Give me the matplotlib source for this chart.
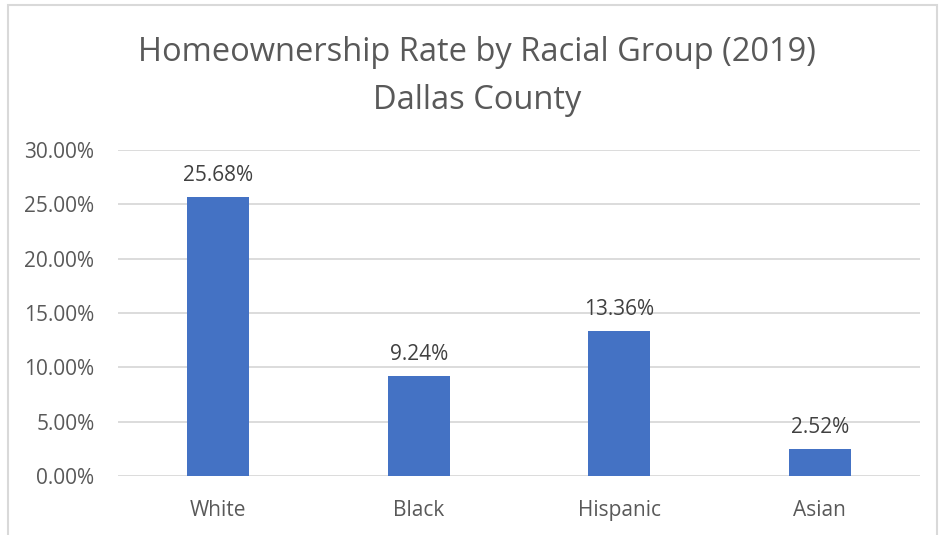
import matplotlib.pyplot as plt
from matplotlib.patches import Rectangle
from matplotlib.ticker import PercentFormatter

groups = ["White", "Black", "Hispanic", "Asian"]
rates = [25.68, 9.24, 13.36, 2.52]
y_ticks = [0, 5, 10, 15, 20, 25, 30]

plt.rcParams['font.family'] = ['Open Sans', 'DejaVu Sans']

fig = plt.figure(figsize=(9.39, 5.35), dpi=100)
ax = fig.add_axes([0.1257, 0.1103, 0.8541, 0.6093])

bars = ax.bar(range(len(groups)), rates, width=0.31, color='#4472C4', zorder=3)
for b, v in zip(bars, rates):
    ax.text(b.get_x() + b.get_width() / 2, v + 1.0, f"{v:.2f}%",
            ha='center', va='bottom', fontsize=15, color='#404040')

ax.set_xlim(-0.5, len(groups) - 0.5)
ax.set_ylim(0, 30)
ax.set_yticks(y_ticks)
ax.yaxis.set_major_formatter(PercentFormatter(decimals=2))
ax.set_xticks(range(len(groups)))
ax.set_xticklabels(groups)
ax.tick_params(axis='both', length=0, labelsize=15, labelcolor='#595959')
ax.tick_params(axis='x', pad=17)
ax.tick_params(axis='y', pad=17)
ax.grid(axis='y', color='#D9D9D9', linewidth=1.3, zorder=0)
for s in ax.spines.values():
    s.set_visible(False)

fig.text(0.508, 0.857, "Homeownership Rate by Racial Group (2019)\nDallas County",
         ha='center', va='center', fontsize=23.5, color='#595959', linespacing=1.6)

# light frame around the chart area
fig.patches.append(Rectangle((0.008, -0.01), 0.99, 1.0, transform=fig.transFigure,
                             fill=False, edgecolor='#D9D9D9', linewidth=1.5))

fig.savefig("out.png", dpi=100)
